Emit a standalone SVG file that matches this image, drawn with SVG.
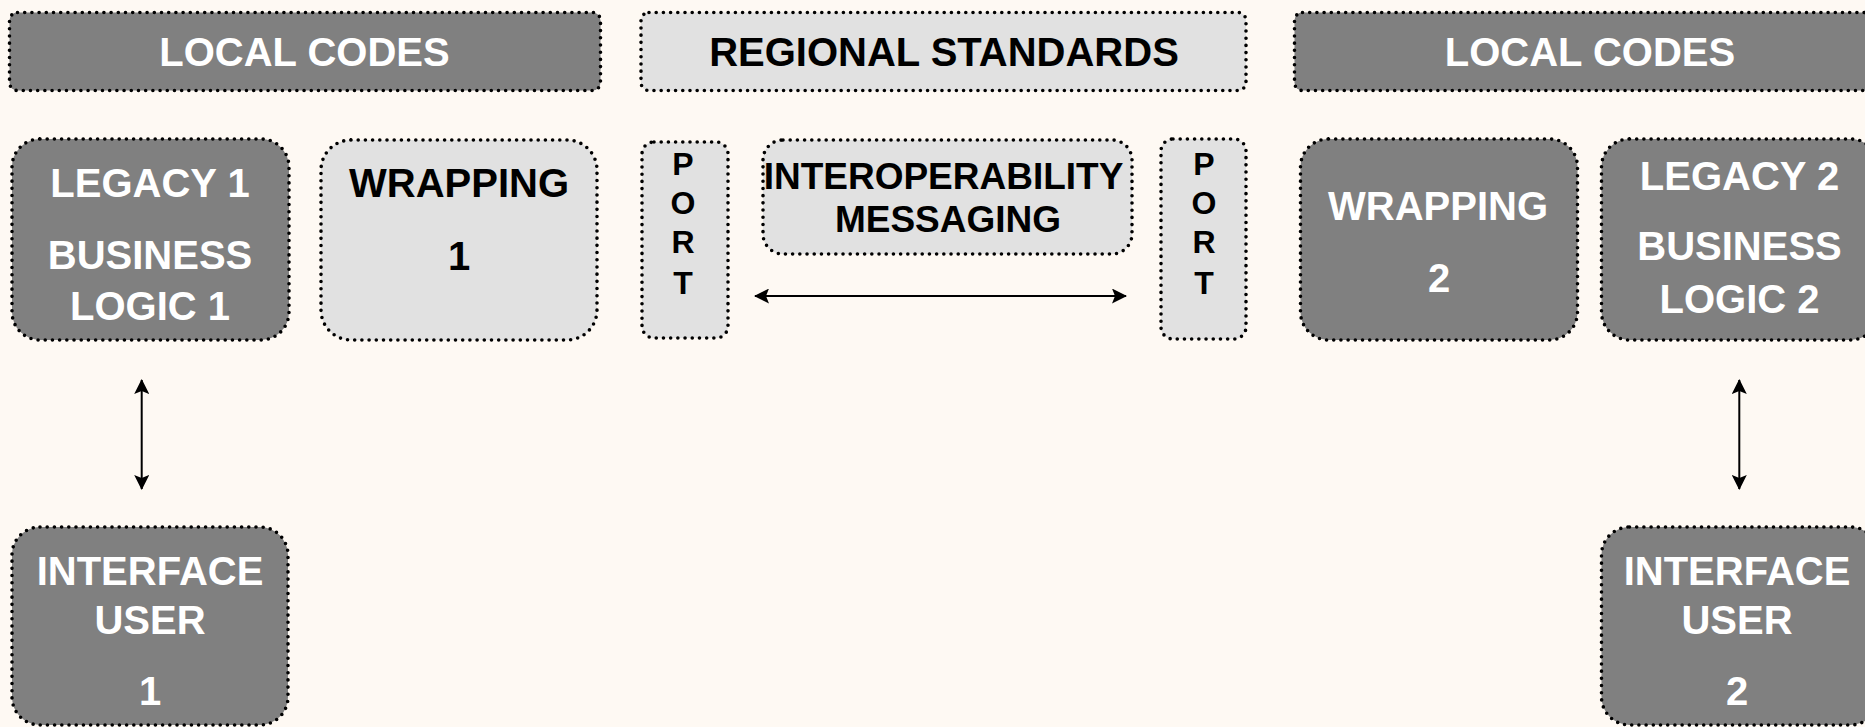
<svg xmlns="http://www.w3.org/2000/svg" width="1865" height="727" viewBox="0 0 1865 727">
<style>
.dark{fill:#808080;stroke:#000;stroke-width:3.6;stroke-dasharray:0 7.2;stroke-linecap:round}
.light{fill:#E1E1E1;stroke:#000;stroke-width:3.6;stroke-dasharray:0 7.2;stroke-linecap:round}
text{font-family:"Liberation Sans",Arial,sans-serif;font-weight:bold;text-anchor:middle}
.w{fill:#fff;font-size:40px}
.b{fill:#000;font-size:40px}
.p{fill:#000;font-size:32px}
.m{fill:#000;font-size:37px}
.conn{stroke:#000;stroke-width:2;fill:none}
</style>
<defs>
<marker id="ah" viewBox="0 0 15 15" refX="14" refY="7.5" markerWidth="15" markerHeight="15" markerUnits="userSpaceOnUse" orient="auto-start-reverse">
<path d="M0,0 L15,7.5 L0,15 L3,7.5 z" fill="#000"/>
</marker>
</defs>
<rect width="1865" height="727" fill="#FEF9F3"/>

<g id="local-codes-1">
<rect class="dark" x="9.5" y="12.5" width="591" height="78" rx="8"/>
<text class="w" x="304.5" y="66">LOCAL CODES</text>
</g>
<g id="regional-standards">
<rect class="light" x="641" y="12.5" width="605" height="78" rx="8"/>
<text class="b" x="944" y="66">REGIONAL STANDARDS</text>
</g>
<g id="local-codes-2">
<rect class="dark" x="1294.5" y="12.5" width="591" height="78" rx="8"/>
<text class="w" x="1590" y="66">LOCAL CODES</text>
</g>

<g id="legacy-1">
<rect class="dark" x="12" y="139" width="277" height="201" rx="28"/>
<text class="w" x="150" y="197">LEGACY 1</text>
<text class="w" x="150" y="269">BUSINESS</text>
<text class="w" x="150" y="320">LOGIC 1</text>
</g>
<g id="wrapping-1">
<rect class="light" x="321" y="140" width="276" height="200" rx="30"/>
<text class="b" x="459" y="197">WRAPPING</text>
<text class="b" x="459" y="270">1</text>
</g>
<g id="port-left">
<rect class="light" x="642" y="142" width="86" height="196" rx="12"/>
<text class="p" x="683" y="175">P</text>
<text class="p" x="683" y="214">O</text>
<text class="p" x="683" y="253">R</text>
<text class="p" x="683" y="294">T</text>
</g>
<g id="interoperability-messaging">
<rect class="light" x="763" y="140" width="369" height="114" rx="20"/>
<text class="m" x="943.5" y="189">INTEROPERABILITY</text>
<text class="m" x="948" y="232">MESSAGING</text>
</g>
<g id="port-right">
<rect class="light" x="1161" y="139" width="85" height="200" rx="12"/>
<text class="p" x="1204" y="175">P</text>
<text class="p" x="1204" y="214">O</text>
<text class="p" x="1204" y="253">R</text>
<text class="p" x="1204" y="294">T</text>
</g>
<g id="wrapping-2">
<rect class="dark" x="1300.5" y="139" width="277" height="201" rx="28"/>
<text class="w" x="1438" y="220">WRAPPING</text>
<text class="w" x="1439" y="292">2</text>
</g>
<g id="legacy-2">
<rect class="dark" x="1601.5" y="139" width="277" height="201" rx="28"/>
<text class="w" x="1739.5" y="190">LEGACY 2</text>
<text class="w" x="1739.5" y="260">BUSINESS</text>
<text class="w" x="1739.5" y="313">LOGIC 2</text>
</g>
<g id="interface-user-1">
<rect class="dark" x="12" y="527" width="276" height="198" rx="28"/>
<text class="w" x="150" y="585">INTERFACE</text>
<text class="w" x="150" y="634">USER</text>
<text class="w" x="150" y="705">1</text>
</g>
<g id="interface-user-2">
<rect class="dark" x="1601.5" y="527" width="277" height="198" rx="28"/>
<text class="w" x="1737" y="585">INTERFACE</text>
<text class="w" x="1737" y="634">USER</text>
<text class="w" x="1737" y="705">2</text>
</g>

<g id="connectors">
<line class="conn" x1="755" y1="296" x2="1126" y2="296" marker-start="url(#ah)" marker-end="url(#ah)"/>
<line class="conn" x1="141.7" y1="380" x2="141.7" y2="489" marker-start="url(#ah)" marker-end="url(#ah)"/>
<line class="conn" x1="1739.3" y1="380" x2="1739.3" y2="489" marker-start="url(#ah)" marker-end="url(#ah)"/>
</g>
</svg>
